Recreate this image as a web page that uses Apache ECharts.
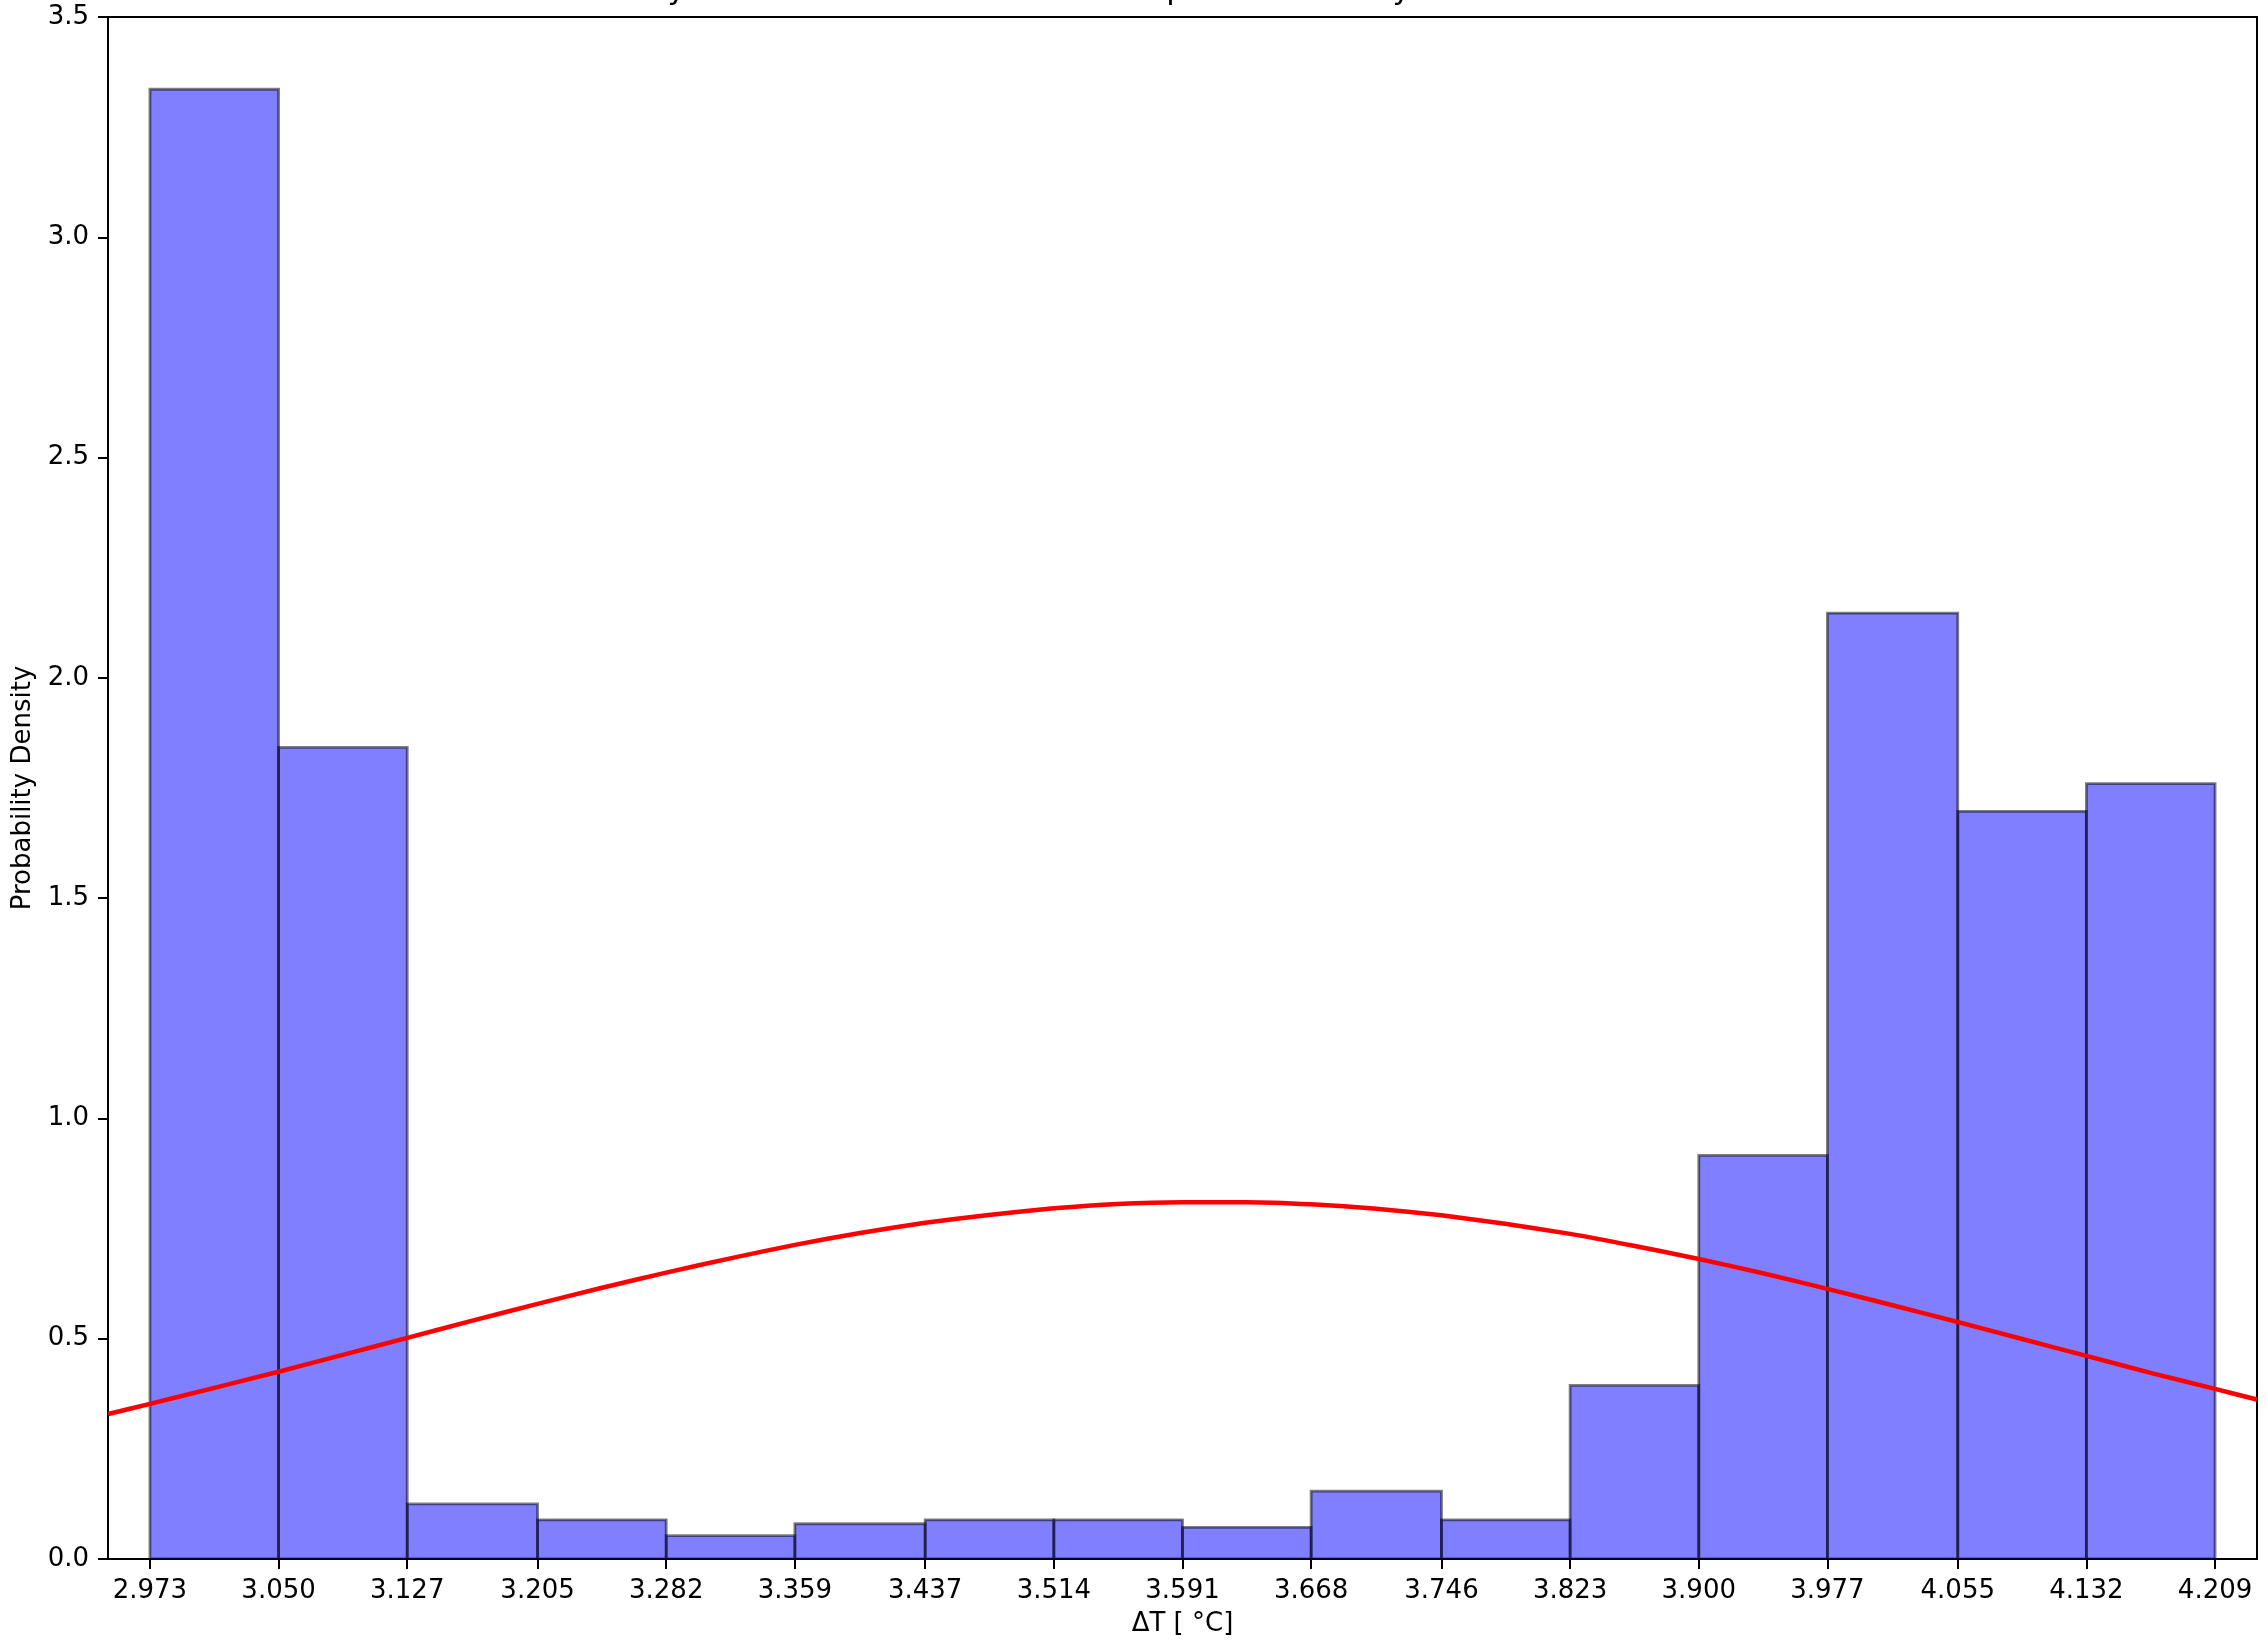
<!DOCTYPE html>
<html>
<head>
<meta charset="utf-8">
<script src="https://cdn.jsdelivr.net/npm/echarts@6/dist/echarts.min.js"></script>
<style>
html,body{margin:0;padding:0;background:#fff;}
#chart{width:2267px;height:1644px;}
</style>
</head>
<body>
<div id="chart"></div>
<script>
// ---- data ----
const tickLabels = ['2.973','3.050','3.127','3.205','3.282','3.359','3.437','3.514','3.591','3.668','3.746','3.823','3.900','3.977','4.055','4.132','4.209'];
const binEdges = tickLabels.map(parseFloat);
const densities = [3.336, 1.842, 0.125, 0.089, 0.053, 0.080, 0.089, 0.089, 0.072, 0.154, 0.089, 0.394, 0.916, 2.147, 1.697, 1.760];
const curveX = [2.948, 2.973, 3.011, 3.050, 3.089, 3.127, 3.166, 3.205, 3.243, 3.282, 3.321, 3.359, 3.398, 3.437, 3.475, 3.514, 3.552, 3.591, 3.630, 3.668, 3.707, 3.746, 3.784, 3.823, 3.861, 3.900, 3.939, 3.977, 4.016, 4.055, 4.093, 4.132, 4.171, 4.209, 4.234];
const curveY = [0.329, 0.352, 0.388, 0.425, 0.464, 0.502, 0.541, 0.579, 0.615, 0.650, 0.683, 0.713, 0.740, 0.763, 0.781, 0.796, 0.806, 0.810, 0.810, 0.805, 0.795, 0.780, 0.761, 0.738, 0.711, 0.681, 0.648, 0.613, 0.576, 0.538, 0.500, 0.461, 0.422, 0.386, 0.362];
const yTickLabels = ['0.0','0.5','1.0','1.5','2.0','2.5','3.0','3.5'];
const titleText = 'Dynamic Simulation Results: Sampled ΔT Density vs Normal Fit';
const xName = 'ΔT [ °C]';
const yName = 'Probability Density';

const histData = densities.map((d, i) => [binEdges[i], binEdges[i + 1], d]);
const curveData = curveX.map((x, i) => [x, curveY[i]]);

const FONT = 'DejaVu Sans';
const chart = echarts.init(document.getElementById('chart'), null, {renderer: 'canvas'});
chart.setOption({
  animation: false,
  backgroundColor: '#ffffff',
  textStyle: {fontFamily: FONT},
  graphic: [{
    type: 'text',
    left: 'center',
    top: -25,
    style: {text: titleText, font: '31px "DejaVu Sans"', fill: '#000'}
  }],
  grid: {left: 108, right: 10, top: 17, bottom: 85, show: true, borderColor: '#000', borderWidth: 2, backgroundColor: 'transparent'},
  xAxis: {
    type: 'value',
    min: 2.9479,
    max: 4.2341,
    name: xName,
    nameLocation: 'middle',
    nameGap: 52,
    nameTextStyle: {fontSize: 26, color: '#000', fontFamily: FONT},
    axisLine: {show: true, lineStyle: {color: '#000', width: 2}},
    axisTick: {show: true, customValues: binEdges, length: 10, lineStyle: {color: '#000', width: 2}},
    axisLabel: {
      show: true, customValues: binEdges, fontSize: 26, color: '#000', margin: 19, fontFamily: FONT,
      formatter: function (v) {
        let best = 0, bd = Infinity;
        binEdges.forEach((e, i) => { const dd = Math.abs(e - v); if (dd < bd) { bd = dd; best = i; } });
        return tickLabels[best];
      }
    },
    splitLine: {show: false}
  },
  yAxis: {
    type: 'value',
    min: 0,
    max: 3.5,
    interval: 0.5,
    name: yName,
    nameLocation: 'middle',
    nameRotate: 90,
    nameGap: 72,
    nameTextStyle: {fontSize: 26, color: '#000', fontFamily: FONT},
    axisLine: {show: true, lineStyle: {color: '#000', width: 2}},
    axisTick: {show: true, length: 10, lineStyle: {color: '#000', width: 2}},
    axisLabel: {
      fontSize: 26, color: '#000', margin: 19, fontFamily: FONT,
      formatter: function (v) { return yTickLabels[Math.round(v / 0.5)]; }
    },
    splitLine: {show: false}
  },
  series: [
    {
      type: 'custom',
      data: histData,
      encode: {x: [0, 1], y: 2},
      clip: true,
      z: 2,
      renderItem: function (params, api) {
        const p0 = api.coord([api.value(0), api.value(2)]);
        const p1 = api.coord([api.value(1), 0]);
        return {
          type: 'rect',
          shape: {x: p0[0], y: p0[1], width: p1[0] - p0[0], height: p1[1] - p0[1]},
          style: {fill: 'rgba(0,0,255,0.5)', stroke: 'rgba(0,0,0,0.5)', lineWidth: 2.8}
        };
      }
    },
    {
      type: 'line',
      data: curveData,
      smooth: 0.2,
      showSymbol: false,
      symbol: 'none',
      z: 3,
      lineStyle: {color: '#ff0000', width: 4.5}
    }
  ]
});
</script>
</body>
</html>
